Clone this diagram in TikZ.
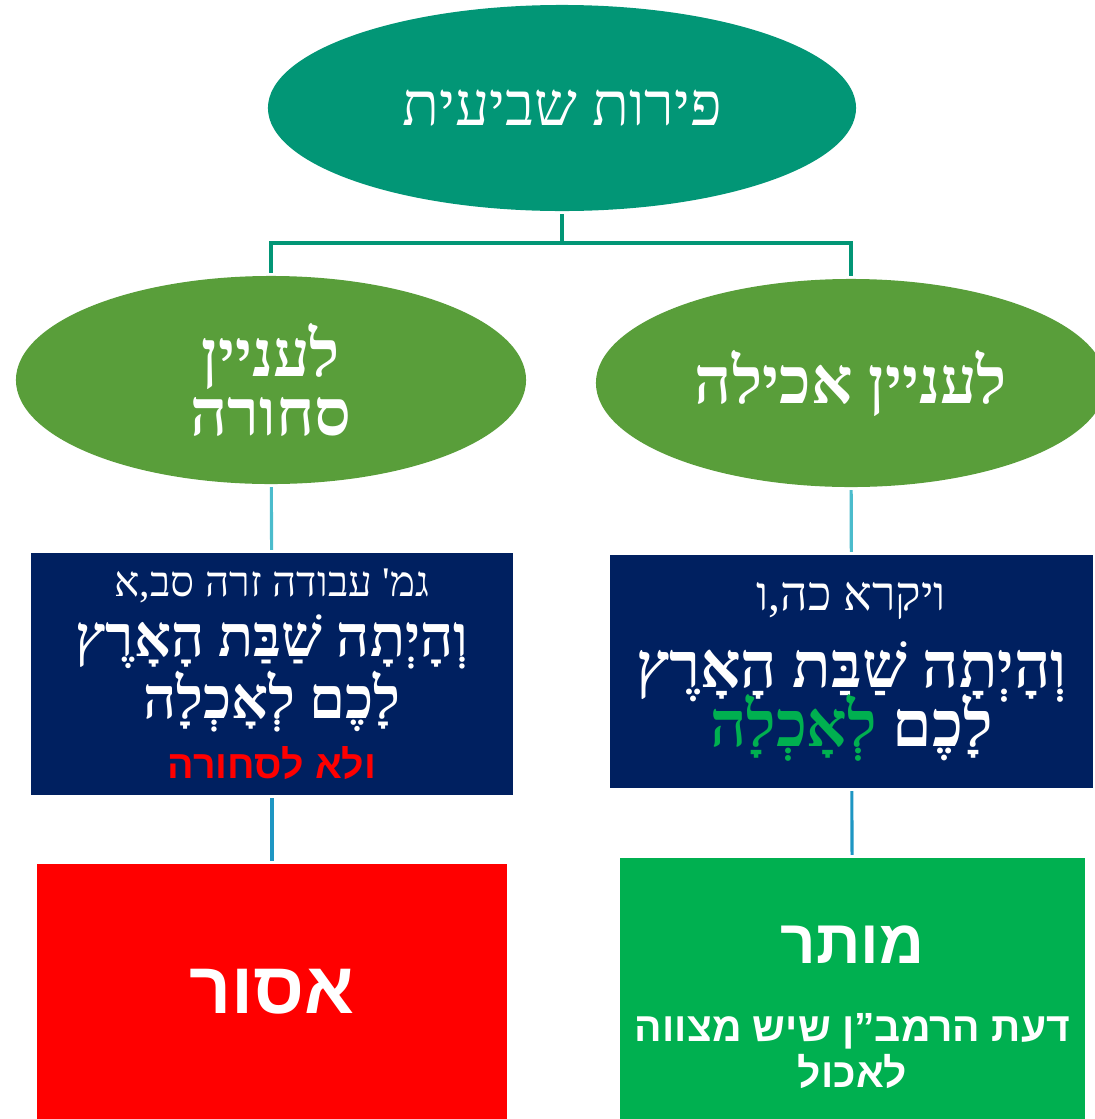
\documentclass[tikz,border=0pt]{standalone}
\usepackage{fontspec}
\usetikzlibrary{shapes.geometric}
\newfontfamily\hebserif[Script=Hebrew]{Liberation Serif}
\newfontfamily\hebsans[Script=Hebrew]{Liberation Sans}
\TeXXeTstate=1
\definecolor{topteal}{RGB}{2,150,118}
\definecolor{leafgreen}{RGB}{89,158,58}
\definecolor{navy}{RGB}{0,32,96}
\definecolor{okgreen}{RGB}{0,176,80}
\definecolor{linkteal}{RGB}{75,188,204}
\definecolor{linkblue}{RGB}{30,150,195}
\begin{document}
\begin{tikzpicture}[
    x=0.025cm, y=-0.025cm,
    oval/.style={ellipse, inner sep=0pt, text=white, align=center},
    top/.style={oval, fill=topteal, minimum width=14.7cm, minimum height=5.15cm,
        font=\hebserif\fontsize{43}{48}\selectfont},
    topic/.style={oval, fill=leafgreen, minimum width=12.75cm, minimum height=5.2cm,
        font=\hebserif\bfseries\fontsize{46}{45}\selectfont},
    source/.style={rectangle, fill=navy, text=white, align=center, inner sep=0pt},
    ruling/.style={rectangle, text=white, align=center, inner sep=0pt}
]
\tikzset{
    bar/.style={draw=topteal, line width=2.2pt},
    link/.style={line width=2.2pt, shorten <=2pt, shorten >=2pt}
}
\useasboundingbox (0,0) rectangle (1094,1119);

% Title
\node[top] (fruits) at (562,108) {\beginR פירות שביעית\endR};

% Topics
\node[topic] (trade) at (271,380) {\beginR לעניין\endR\\[-3pt]\beginR סחורה\endR};
\node[topic] (eating) at (851,383) {\beginR לעניין אכילה\endR};

% Sources
\node[source, minimum width=12.05cm, minimum height=6.05cm,
    font=\hebserif\fontsize{30}{42.5}\selectfont] (talmud) at (272,674) {%
    \beginR גמ' עבודה זרה סב,א\endR\\
    \fontsize{41}{42}\selectfont\bfseries\beginR וְהָיְתָה שַׁבַּת הָאָרֶץ\endR\\
    \fontsize{41}{42}\selectfont\bfseries\beginR לָכֶם לְאָכְלָה\endR\\
    \hebsans\fontsize{28}{42}\selectfont\bfseries\color{red}\beginR ולא לסחורה\endR};
\node[source, minimum width=12.075cm, minimum height=5.825cm,
    font=\hebserif\fontsize{34}{44}\selectfont] (verse) at (851.5,671.5) {%
    \beginR ויקרא כה,ו\endR\\[11pt]
    \fontsize{45}{44}\selectfont\bfseries\beginR וְהָיְתָה שַׁבַּת הָאָרֶץ\endR\\[-7pt]
    \fontsize{45}{44}\selectfont\bfseries{\color{okgreen}\beginR לְאָכְלָה\endR} \beginR לָכֶם\endR};

% Rulings
\node[ruling, fill=red, minimum width=11.75cm, minimum height=6.375cm,
    font=\hebsans\bfseries\fontsize{52}{60}\selectfont] (forbidden) at (272,991.5) {\beginR אסור\endR};
\node[ruling, fill=okgreen, minimum width=11.625cm, minimum height=7.475cm,
    font=\hebsans\bfseries\fontsize{29}{33}\selectfont] (permitted) at (852.5,1007.5) {%
    \fontsize{44}{33}\selectfont\bfseries\beginR מותר\endR\\[22pt]
    \beginR דעת הרמב”ן שיש מצווה\endR\\
    \beginR לאכול\endR};

% Connections
\coordinate (split) at (562,243);
\draw[bar, shorten <=2pt] (fruits) -- (split);
\draw[bar, shorten <=2pt, shorten >=2pt] (trade) |- (split) -| (eating);

\draw[link, linkteal] (trade) -- (talmud);
\draw[link, linkteal] (eating) -- (verse);
\draw[link, linkblue] (talmud) -- (forbidden);
\draw[link, linkblue] (verse) -- (permitted);

\end{tikzpicture}
\end{document}
